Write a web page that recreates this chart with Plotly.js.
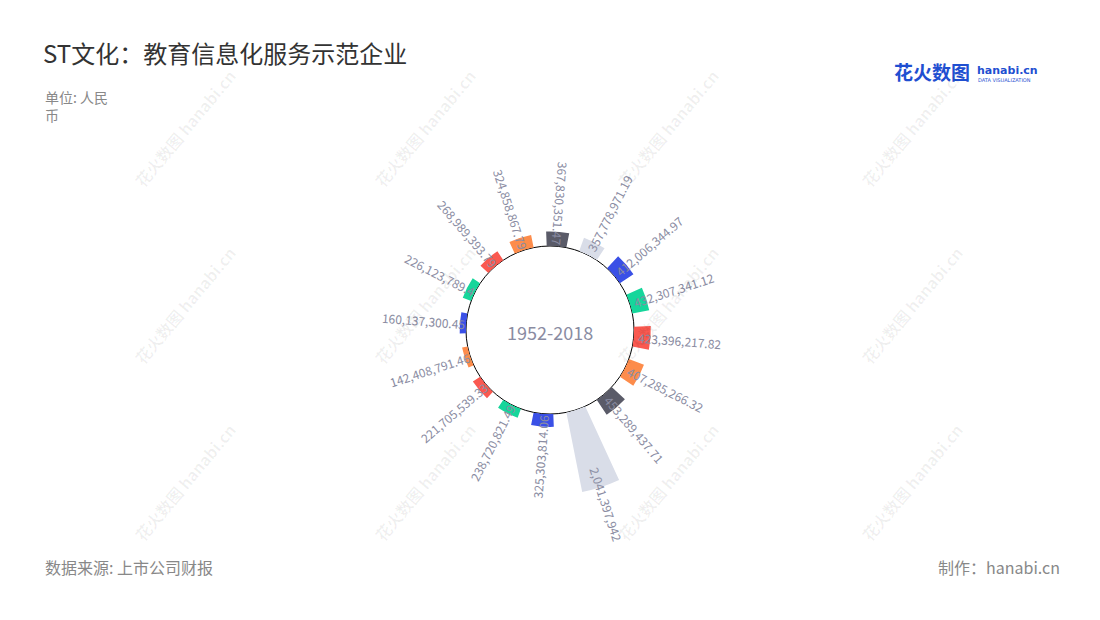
<!DOCTYPE html>
<html>
<head>
<meta charset="utf-8">
<script src="https://cdn.plot.ly/plotly-3.0.1.min.js"></script>
<style>html,body{margin:0;padding:0;background:#fff;}#chart{width:1100px;height:620px;}</style>
</head>
<body>
<div id="chart"></div>
<script>
// ---- data (clockwise, starting at the left) ----
const categories = ['01','02','03','04','05','06','07','08','09','10','11','12','13','14','15','16'];
const values = [160137300.45, 226123789.4, 268989393.79, 324858867.79, 367830351.47, 357778971.19,
                412006344.97, 432307341.12, 423396217.82, 407285266.32, 453289437.71, 2041397942,
                325303814.06, 238720821.49, 221705539.33, 142408791.46];
const palette = ['#3a50e6', '#16d69b', '#fa5950', '#fd8c4b', '#5a5b68', '#d9dde8'];
const periodLabel = '1952-2018';
const titleText = 'ST文化：教育信息化服务示范企业';
const unitText = '单位: 人民<br>币';
const sourceText = '数据来源: 上市公司财报';
const makerText = '制作：hanabi.cn';

// ---- geometry ----
const W = 1100, H = 620;
const CX = 550, CY = 330, ROUT = 170, HOLEPX = 84;
const RMAX = 2.166e9;
const ROT = 175.5;
const FONT = '"Noto Sans CJK SC", "Noto Sans", sans-serif';
const LABEL_SIZE = 12;
const colors = values.map((v, i) => palette[i % palette.length]);

const px = x => x / W, py = y => 1 - y / H;

const cv = document.createElement('canvas').getContext('2d');
cv.font = LABEL_SIZE + 'px "Noto Sans CJK SC"';

const annotations = [];
const step = 360 / categories.length;
values.forEach((v, i) => {
  const txt = v.toLocaleString('en-US', {maximumFractionDigits: 2});
  const comp = (90 - ROT + i * step + 720) % 360;
  const t = comp * Math.PI / 180;
  const lenPx = v / RMAX * (ROUT - HOLEPX);
  const outward = Math.sin(t) > 0.1;
  const rIn = outward ? HOLEPX + Math.max(5, lenPx - 20) : HOLEPX + 1;
  const L = cv.measureText(txt).width;
  const r = rIn + L / 2;
  let ang = outward ? comp - 90 : comp + 90;
  while (ang > 180) ang -= 360;
  while (ang <= -180) ang += 360;
  annotations.push({
    text: txt, xref: 'paper', yref: 'paper',
    x: px(CX + r * Math.sin(t)), y: py(CY - r * Math.cos(t)),
    xanchor: 'center', yanchor: 'middle', showarrow: false, borderpad: 0,
    textangle: ang, font: {family: FONT, size: LABEL_SIZE, color: '#8a8ca2'}
  });
});

annotations.push({text: periodLabel, xref: 'paper', yref: 'paper', x: px(CX), y: py(CY + 2),
  showarrow: false, xanchor: 'center', yanchor: 'middle',
  font: {family: FONT, size: 18, color: '#8a8ca2'}});
annotations.push({text: unitText, xref: 'paper', yref: 'paper', x: px(43), y: py(85),
  showarrow: false, xanchor: 'left', yanchor: 'top', align: 'left',
  font: {family: FONT, size: 14, color: '#888888'}});
annotations.push({text: sourceText, xref: 'paper', yref: 'paper', x: px(43), y: py(567),
  showarrow: false, xanchor: 'left', yanchor: 'middle',
  font: {family: FONT, size: 16, color: '#888888'}});
annotations.push({text: makerText, xref: 'paper', yref: 'paper', x: px(1062), y: py(567),
  showarrow: false, xanchor: 'right', yanchor: 'middle',
  font: {family: FONT, size: 16, color: '#888888'}});
// logo
annotations.push({text: '<b>花火数图</b>', xref: 'paper', yref: 'paper', x: px(892), y: py(72),
  showarrow: false, xanchor: 'left', yanchor: 'middle',
  font: {family: FONT, size: 19, color: '#1f4fd1'}});
annotations.push({text: '<b>hanabi.cn</b>', xref: 'paper', yref: 'paper', x: px(975), y: py(70),
  showarrow: false, xanchor: 'left', yanchor: 'middle',
  font: {family: '"DejaVu Sans", sans-serif', size: 11, color: '#1f4fd1'}});
annotations.push({text: 'DATA VISUALIZATION', xref: 'paper', yref: 'paper', x: px(976), y: py(80),
  showarrow: false, xanchor: 'left', yanchor: 'middle',
  font: {family: '"DejaVu Sans", sans-serif', size: 5, color: '#1f4fd1'}});

// watermarks
const wmX = [185, 425, 668, 912], wmY = [128, 305, 482];
wmY.forEach(y => wmX.forEach(x => {
  annotations.push({text: '<b>花火数图</b> <b>hanabi.cn</b>', xref: 'paper', yref: 'paper',
    x: px(x), y: py(y), showarrow: false, xanchor: 'center', yanchor: 'middle', textangle: -50,
    font: {family: FONT, size: 16, color: 'rgba(0,0,0,0.06)'}});
}));

const trace = {
  type: 'barpolar', r: values, theta: categories,
  marker: {color: colors, line: {width: 0}},
  hoverinfo: 'r'
};

const layout = {
  width: W, height: H,
  margin: {l: 0, r: 0, t: 0, b: 0},
  paper_bgcolor: '#ffffff',
  showlegend: false,
  title: {text: titleText, x: px(43), xanchor: 'left', y: py(55), yanchor: 'middle',
    font: {family: FONT, size: 24, color: '#333333'}},
  polar: {
    domain: {x: [px(CX - ROUT), px(CX + ROUT)], y: [py(CY + ROUT), py(CY - ROUT)]},
    hole: HOLEPX / ROUT,
    bgcolor: 'rgba(0,0,0,0)',
    bargap: 0.4,
    radialaxis: {visible: false, range: [0, RMAX]},
    angularaxis: {visible: false, type: 'category', direction: 'clockwise', rotation: ROT}
  },
  shapes: [{
    type: 'circle', xref: 'paper', yref: 'paper', xsizemode: 'pixel', ysizemode: 'pixel',
    xanchor: px(CX), yanchor: py(CY), x0: -HOLEPX, x1: HOLEPX, y0: -HOLEPX, y1: HOLEPX,
    fillcolor: '#ffffff', line: {color: '#000000', width: 1}, layer: 'below'
  }],
  annotations: annotations
};

Plotly.newPlot('chart', [trace], layout, {displayModeBar: false, staticPlot: true});
</script>
</body>
</html>
